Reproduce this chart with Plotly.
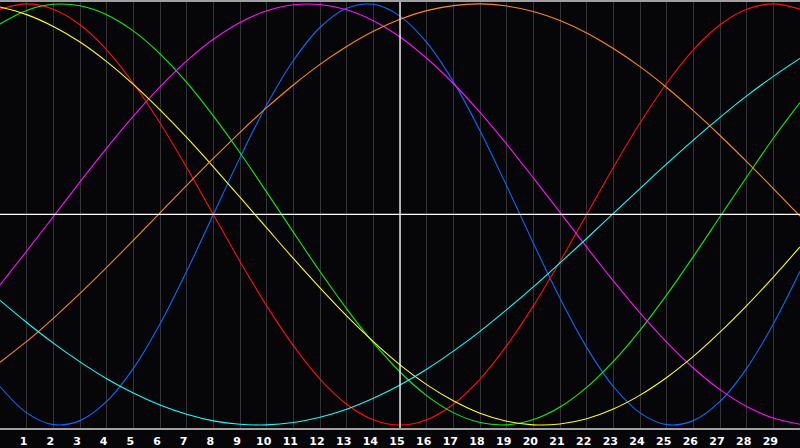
import plotly.graph_objects as go

# days across the chart, "today" is day 15
days = list(range(0, 31))
today = 15

# cycle values in percent at each day
physical = [-81.7, -94.2, -99.8, -97.9, -88.8, -73.1, -52.0, -27.0, 0.0, 27.0,
            52.0, 73.1, 88.8, 97.9, 99.8, 94.2, 81.7, 63.1, 39.8, 13.6,
            -13.6, -39.8, -63.1, -81.7, -94.2, -99.8, -97.9, -88.8, -73.1, -52.0, -27.0]
emotional = [97.5, 100.0, 97.5, 90.1, 78.2, 62.3, 43.4, 22.3, 0.0, -22.3,
             -43.4, -62.3, -78.2, -90.1, -97.5, -100.0, -97.5, -90.1, -78.2, -62.3,
             -43.4, -22.3, 0.0, 22.3, 43.4, 62.3, 78.2, 90.1, 97.5, 100.0, 97.5]
intellectual = [90.5, 96.9, 99.8, 99.1, 94.9, 87.2, 76.3, 62.7, 46.8, 29.3,
                10.6, -8.4, -27.1, -44.8, -60.9, -74.8, -86.0, -94.1, -98.8, -99.9,
                -97.4, -91.4, -82.1, -69.8, -55.0, -38.2, -20.0, -1.1, 17.8, 36.2, 53.1]
intuitive = [-33.4, -17.4, -1.0, 15.5, 31.5, 46.7, 60.6, 72.9, 83.2, 91.2,
             96.7, 99.6, 99.7, 97.2, 92.0, 84.3, 74.2, 62.2, 48.5, 33.4,
             17.4, 1.0, -15.5, -31.5, -46.7, -60.6, -72.9, -83.2, -91.2, -96.7, -99.6]
aesthetic = [98.5, 94.9, 89.3, 81.9, 72.6, 61.8, 49.7, 36.6, 22.6, 8.2,
             -6.4, -20.9, -34.9, -48.2, -60.4, -71.4, -80.8, -88.5, -94.4, -98.2,
             -99.9, -99.5, -97.0, -92.4, -85.8, -77.4, -67.4, -55.9, -43.3, -29.7, -15.4]
awareness = [-70.2, -60.3, -49.3, -37.5, -25.1, -12.3, 0.8, 13.8, 26.6, 39.0,
             50.7, 61.5, 71.3, 79.8, 87.0, 92.7, 96.8, 99.2, 100.0, 99.0,
             96.4, 92.1, 86.2, 78.8, 70.2, 60.3, 49.3, 37.5, 25.1, 12.3, -0.8]
spiritual = [-40.8, -51.3, -61.1, -70.0, -78.0, -84.8, -90.5, -94.9, -98.0, -99.6,
             -99.9, -98.8, -96.3, -92.5, -87.3, -81.0, -73.5, -64.9, -55.5, -45.2,
             -34.4, -23.0, -11.4, 0.5, 12.3, 24.0, 35.3, 46.1, 56.3, 65.6, 74.1]

series = [
    ("Physical", physical, "#0a6cff"),
    ("Emotional", emotional, "#ff1010"),
    ("Intellectual", intellectual, "#10ee10"),
    ("Intuitive", intuitive, "#ff10ff"),
    ("Aesthetic", aesthetic, "#ffff10"),
    ("Awareness", awareness, "#ff8a10"),
    ("Spiritual", spiritual, "#10ffff"),
]

fig = go.Figure()
for name, values, color in series:
    fig.add_trace(go.Scatter(
        x=days,
        y=values,
        mode="lines",
        line=dict(color=color, width=1.1, shape="spline"),
        name=name
    ))

# today marker and the zero line
fig.add_shape(type="line", xref="x", yref="paper", x0=today, x1=today, y0=0, y1=1,
              line=dict(color="white", width=1.3), layer="above")
fig.add_shape(type="line", xref="paper", yref="y", x0=0, x1=1, y0=0, y1=0,
              line=dict(color="white", width=1.3), layer="above")

fig.update_layout(
    width=800,
    height=448,
    margin=dict(l=0, r=0, t=0, b=20),
    paper_bgcolor="#060608",
    plot_bgcolor="#060608",
    showlegend=False,
    xaxis=dict(
        range=[0, 30],
        tickvals=list(range(1, 30)),
        ticktext=[str(d) for d in range(1, 30)],
        showgrid=True,
        gridcolor="#333335",
        gridwidth=1,
        zeroline=False,
        showline=True,
        linecolor="#a0a0a0",
        linewidth=2,
        mirror=True,
        ticks="",
        ticklabelshift=-3,
        ticklabelstandoff=2,
        tickfont=dict(family="DejaVu Sans", size=11, color="white", weight="bold"),
    ),
    yaxis=dict(
        range=[-101.4, 100.9],
        showgrid=False,
        zeroline=False,
        showticklabels=False,
        showline=True,
        linecolor="#a0a0a0",
        linewidth=2,
        ticks="",
    ),
)

# drop the page's default body margin so the chart sits at the window corner
fig.write_html("out.html", config={"displayModeBar": False},
               post_script="document.body.style.margin='0';"
               "document.body.style.background='#060608';")
